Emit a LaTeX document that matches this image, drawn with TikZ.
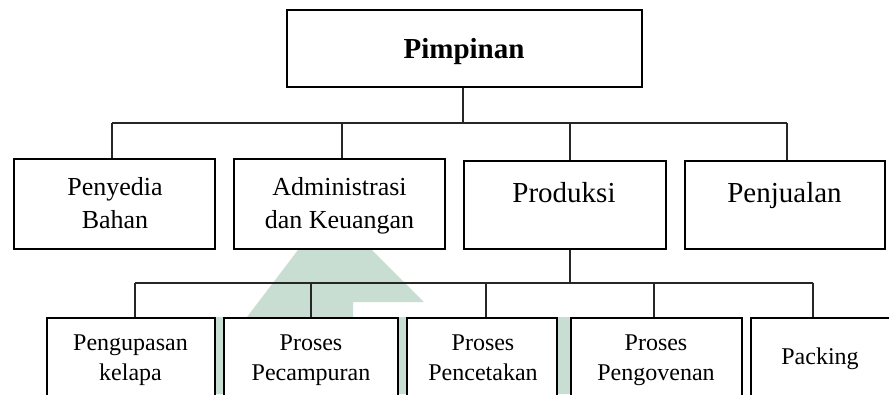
\documentclass[tikz,border=0pt]{standalone}
\usepackage{fontspec}
\setmainfont{Liberation Serif}
\definecolor{wmgreen}{RGB}{200,222,210}
\newcommand{\mytwolines}[2]{\def\arraystretch{1}\begin{tabular}[t]{@{}c@{}}#1\\#2\end{tabular}}
\begin{document}
\begin{tikzpicture}[x=1pt,y=-1pt,
  box/.style={draw=black, line width=2.6pt, fill=white, rectangle, inner sep=0pt},
  conn/.style={draw=black!85, line width=1.3pt},
  txt/.style={inner sep=0pt, anchor=base, align=center},
  big/.style={txt, font=\fontsize{29}{35}\selectfont},
  mid/.style={txt, font=\fontsize{26}{33}\selectfont},
  small/.style={txt, font=\fontsize{24}{30}\selectfont}]
\useasboundingbox (0,0) rectangle (889,394);
\clip (0,0) rectangle (889,394);
\fill[white] (0,0) rectangle (889,394);
% watermark
\fill[wmgreen] (298,250) -- (372,250) -- (424,302) -- (353,302) -- (353,317) -- (570,317)
  -- (570,394) -- (210,394) -- (210,317) -- (247,317) -- cycle;
% boxes
\node[box, minimum width=355pt, minimum height=77pt] (pim) at (464.5,48.5) {};
\node[box, minimum width=201pt, minimum height=90pt] (pen) at (114.5,204) {};
\node[box, minimum width=211pt, minimum height=90pt] (adm) at (339.5,204) {};
\node[box, minimum width=202pt, minimum height=88pt] (pro) at (565,205) {};
\node[box, minimum width=200pt, minimum height=88pt] (jua) at (785,205) {};
\node[box, minimum width=168pt, minimum height=122pt] (kel) at (131,379) {};
\node[box, minimum width=174pt, minimum height=122pt] (cam) at (311,379) {};
\node[box, minimum width=150pt, minimum height=122pt] (cet) at (482,379) {};
\node[box, minimum width=171pt, minimum height=122pt] (ovn) at (656.5,379) {};
\node[box, minimum width=209pt, minimum height=122pt] (pac) at (855.5,379) {};
% texts
\node[big, font=\fontsize{29}{35}\selectfont\bfseries] (pimT) at (464,58) {Pimpinan};
\node[mid] (penT) at (115,195) {\mytwolines{Penyedia}{Bahan}};
\node[mid] (admT) at (339.5,195) {\mytwolines{Administrasi}{dan Keuangan}};
\node[big] (proT) at (564,202) {Produksi};
\node[big] (juaT) at (784.5,202) {Penjualan};
\node[small] (kelT) at (130.5,350) {\mytwolines{Pengupasan}{kelapa}};
\node[small] (camT) at (311,350) {\mytwolines{Proses}{Pecampuran}};
\node[small] (cetT) at (483,350) {\mytwolines{Proses}{Pencetakan}};
\node[small] (ovnT) at (656,350) {\mytwolines{Proses}{Pengovenan}};
\node[small] (pacT) at (820,364) {Packing};
% connectors level 1
\coordinate (j1) at (463,123);
\coordinate (d1) at (112,123);
\coordinate (d2) at (342,123);
\coordinate (d3) at (570,123);
\coordinate (d4) at (787,123);
\draw[conn] (pim.south -| j1) -- (j1);
\draw[conn] (d1) -- (d4);
\draw[conn] (d1) -- (d1 |- pen.north);
\draw[conn] (d2) -- (d2 |- adm.north);
\draw[conn] (d3) -- (d3 |- pro.north);
\draw[conn] (d4) -- (d4 |- jua.north);
% connectors level 2
\coordinate (j2) at (570,283);
\coordinate (e1) at (135,283);
\coordinate (e2) at (311,283);
\coordinate (e3) at (486,283);
\coordinate (e4) at (654,283);
\coordinate (e5) at (813,283);
\draw[conn] (pro.south -| j2) -- (j2);
\draw[conn] (e1) -- (e5);
\draw[conn] (e1) -- (e1 |- kel.north);
\draw[conn] (e2) -- (e2 |- cam.north);
\draw[conn] (e3) -- (e3 |- cet.north);
\draw[conn] (e4) -- (e4 |- ovn.north);
\draw[conn] (e5) -- (e5 |- pac.north);
\end{tikzpicture}
\end{document}
